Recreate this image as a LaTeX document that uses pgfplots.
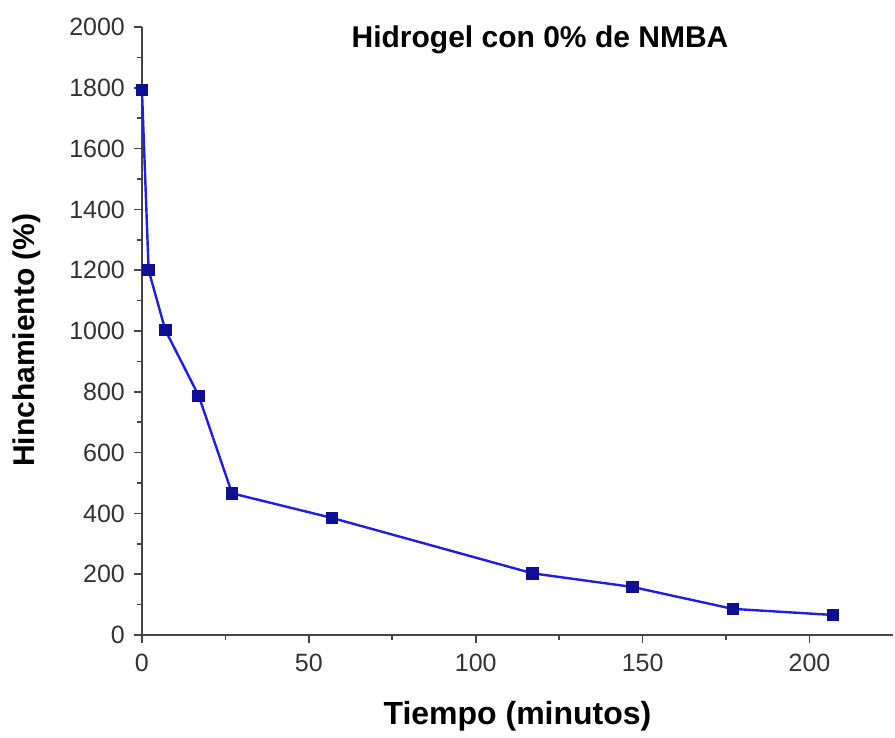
\documentclass[border=0pt]{standalone}
\usepackage{fontspec}
\setmainfont{Liberation Sans}
\usepackage{pgfplots}
\pgfplotsset{compat=1.18}
\definecolor{lineblue}{RGB}{30,30,235}
\definecolor{markblue}{RGB}{15,15,150}
\definecolor{axgray}{RGB}{70,70,70}
\begin{document}
\begin{tikzpicture}
\begin{axis}[
  scale only axis,
  width=375.5pt, height=304pt,
  xmin=0, xmax=225, ymin=0, ymax=2000,
  axis x line*=bottom, axis y line*=left,
  axis line style={axgray, line width=1pt, -},
  every tick/.style={axgray, line width=0.8pt},
  tick align=outside,
  major tick length=4pt, minor tick length=2.5pt,
  xtick={0,50,100,150,200}, minor x tick num=1,
  ytick={0,200,...,2000}, minor y tick num=1,
  /pgf/number format/assume math mode=true,
  /pgf/number format/set thousands separator={},
  tick label style={font=\fontsize{12.5}{14}\selectfont, text=black!80},
  xticklabel style={yshift=-2pt},
  yticklabel style={xshift=-1pt},
  xlabel={\textbf{Tiempo (minutos)}},
  ylabel={\textbf{Hinchamiento (\%)}},
  every axis x label/.style={at={(axis description cs:0.50,-0.133)}, anchor=center, font=\fontsize{16}{18}\selectfont},
  every axis y label/.style={at={(axis description cs:-0.153,0.485)}, rotate=90, anchor=center, font=\fontsize{15}{18}\selectfont},
  clip=false,
]
\addplot[color=lineblue, line width=1.2pt, mark=square*, mark size=2.5pt,
  mark options={fill=markblue, draw=markblue}]
  coordinates {
  (0,1793) (2,1200) (7,1003) (17,787) (27,466) (57,385)
  (117,203) (147,158) (177,86) (207,66)
  };
\node[anchor=center, font=\bfseries\fontsize{15}{18}\selectfont] at (axis description cs:0.53,0.979) {Hidrogel con 0\% de NMBA};
\path (axis description cs:-0.189,-0.158) rectangle (axis description cs:1.0027,1.0444);
\end{axis}
\end{tikzpicture}
\end{document}
